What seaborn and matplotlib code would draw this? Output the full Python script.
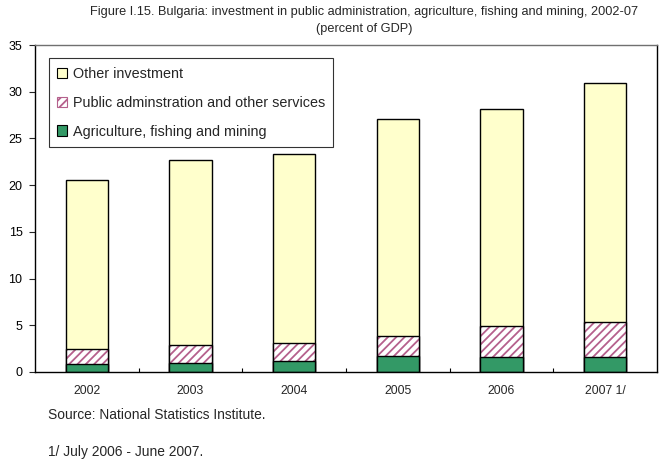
import matplotlib
matplotlib.use("Agg")
import matplotlib.pyplot as plt
from matplotlib.patches import Patch
import seaborn as sns
import pandas as pd
import numpy as np

# Investment shares, percent of GDP
years = ["2002", "2003", "2004", "2005", "2006", "2007 1/"]
agriculture = [0.9, 1.0, 1.2, 1.7, 1.6, 1.6]
public_admin = [1.6, 1.9, 1.9, 2.2, 3.3, 3.7]
other_investment = [18.0, 19.8, 20.2, 23.2, 23.3, 25.6]
y_ticks = [0, 5, 10, 15, 20, 25, 30, 35]

sns.set_theme(style="white")
plt.rcParams["font.family"] = ["Liberation Sans", "DejaVu Sans"]
plt.rcParams["hatch.linewidth"] = 1.3

df = pd.DataFrame({
    "year": years,
    "agri": agriculture,
    "public": public_admin,
    "other": other_investment,
})
df["agri_public"] = df["agri"] + df["public"]
df["total"] = df["agri_public"] + df["other"]

fig = plt.figure(figsize=(6.6, 4.62), dpi=100)
ax = fig.add_axes([35 / 660, 1 - 372 / 462, 622 / 660, 327 / 462])

yellow = "#FFFFCC"
green = "#339966"
hatch_col = "#B5608C"
bw = 0.41

# Stacked bars drawn as cumulative layers, top layer first
sns.barplot(data=df, x="year", y="total", color=yellow, saturation=1,
            width=bw, edgecolor="black", linewidth=1.0, ax=ax)
sns.barplot(data=df, x="year", y="agri_public", color="white", saturation=1,
            width=bw, edgecolor=hatch_col, linewidth=0, hatch="////", ax=ax)
sns.barplot(data=df, x="year", y="agri_public", fill=False, color="black",
            width=bw, edgecolor="black", linewidth=1.0, ax=ax)
sns.barplot(data=df, x="year", y="agri", color=green, saturation=1,
            width=bw, edgecolor="black", linewidth=1.0, ax=ax)

ax.set_xlim(-0.5, len(years) - 0.5)
ax.set_ylim(0, 35)
ax.set_yticks(y_ticks)
ax.set_yticklabels([str(t) for t in y_ticks], fontsize=9)
ax.set_xlabel("")
ax.set_ylabel("")

# Category labels below the axis, small separator ticks pointing inward
ax.set_xticks(np.arange(0.5, len(years) - 1, 1.0))
ax.set_xticklabels([])
ax.tick_params(axis="x", direction="in", length=3, width=0.8, colors="black", bottom=True)
ax.tick_params(axis="y", direction="out", length=4, width=0.8, left=True, pad=5, labelcolor="black")
for i, lab in enumerate(years):
    ax.text(i, -2.0, lab, ha="center", va="center", fontsize=8.8,
            transform=ax.transData, clip_on=False)

for side in ["left", "bottom", "right"]:
    ax.spines[side].set_color("black")
    ax.spines[side].set_linewidth(1.0)
ax.spines["top"].set_color("#707070")
ax.spines["top"].set_linewidth(1.0)

handles = [
    Patch(facecolor=yellow, edgecolor="black", linewidth=0.8, label="Other investment"),
    Patch(facecolor="white", edgecolor=hatch_col, hatch="////", linewidth=0.8,
          label="Public adminstration and other services"),
    Patch(facecolor=green, edgecolor="black", linewidth=0.8, label="Agriculture, fishing and mining"),
]
leg = ax.legend(handles=handles, loc="upper left", bbox_to_anchor=(0.022, 0.959),
                fontsize=10.4, frameon=True, fancybox=False, borderaxespad=0,
                handlelength=0.7, handleheight=0.7, handletextpad=0.35,
                labelspacing=1.02, borderpad=0.6)
leg.get_frame().set_edgecolor("black")
leg.get_frame().set_linewidth(0.8)

fig.text(0.552, 1 - 12 / 462, "Figure I.15. Bulgaria: investment in public administration, agriculture, fishing and mining, 2002-07",
         ha="center", va="center", fontsize=9.2)
fig.text(0.552, 1 - 29 / 462, "(percent of GDP)", ha="center", va="center", fontsize=9.2)
fig.text(48 / 660, 1 - 415 / 462, "Source: National Statistics Institute.", ha="left", va="center", fontsize=9.9)
fig.text(48 / 660, 1 - 452 / 462, "1/ July 2006 - June 2007.", ha="left", va="center", fontsize=9.9)

fig.savefig("out.png", dpi=100)
